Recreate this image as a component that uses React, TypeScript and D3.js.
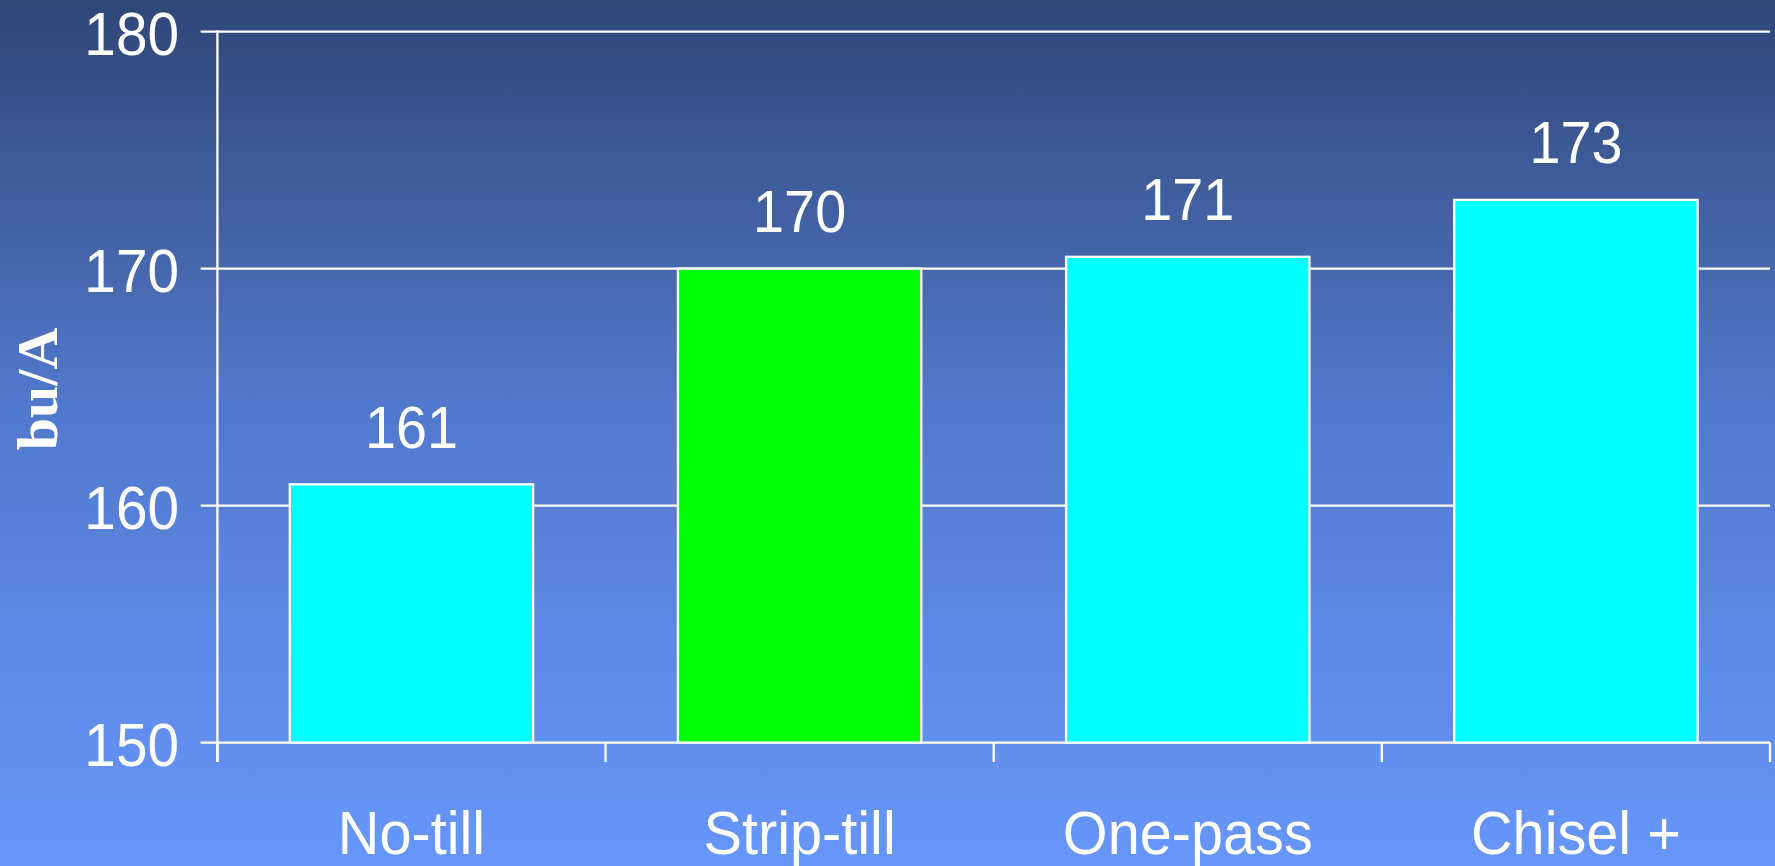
import React from "react";
import * as d3 from "d3";

const categories = ["No-till", "Strip-till", "One-pass", "Chisel +"];
const yields = [160.9, 170.0, 170.5, 172.9];
const valueLabels = ["161", "170", "171", "173"];
const barColors = ["#00FFFF", "#00FF00", "#00FFFF", "#00FFFF"];
const yTicks = [150, 160, 170, 180];

const W = 1775;
const H = 866;
const FONT = "'Liberation Sans', Arial, Helvetica, sans-serif";
const SX = 0.93;

export default function App() {
  const y = d3.scaleLinear().domain([150, 180]).range([742.6, 31.7]);
  const x = d3
    .scaleBand<string>()
    .domain(categories)
    .range([217.4, 1770])
    .paddingInner(0.373)
    .paddingOuter(0.1865);
  const step = x.step();
  const axisX = 217.4;
  const bottom = y(150);
  const boundaries = d3.range(categories.length + 1).map((i) => 217.4 + i * step);
  const SW = 2.3;

  return (
    <div style={{ position: "fixed", left: 0, top: 0, width: W, height: H }}>
      <svg width={W} height={H} style={{ display: "block" }}>
        <defs>
          <linearGradient id="bg" x1="0" y1="0" x2="0" y2="1">
            <stop offset="0" stopColor="#2f4677" />
            <stop offset="0.35" stopColor="#4a6cb4" />
            <stop offset="0.46" stopColor="#5078cc" />
            <stop offset="0.75" stopColor="#5e8ae6" />
            <stop offset="1" stopColor="#6796fb" />
          </linearGradient>
        </defs>
        <rect x={0} y={0} width={W} height={H} fill="url(#bg)" />

        {/* gridlines + y ticks */}
        {yTicks.map((t) => (
          <g key={t}>
            <line x1={200.7} x2={1770} y1={y(t)} y2={y(t)} stroke="#fff" strokeWidth={SW} />
            <text
              transform={`translate(179,${y(t) + 23.3}) scale(${SX},1)`}
              textAnchor="end"
              fill="#fff"
              fontFamily={FONT}
              fontSize={61}
            >
              {t}
            </text>
          </g>
        ))}

        {/* y axis */}
        <line x1={axisX} x2={axisX} y1={y(180) - 1.5} y2={762} stroke="#fff" strokeWidth={SW} />

        {/* x ticks */}
        {boundaries.map((bx, i) => (
          <line key={i} x1={bx} x2={bx} y1={bottom} y2={762} stroke="#fff" strokeWidth={SW} />
        ))}

        {/* bars */}
        {categories.map((c, i) => (
          <rect
            key={c}
            x={x(c)}
            y={y(yields[i])}
            width={x.bandwidth()}
            height={bottom - y(yields[i])}
            fill={barColors[i]}
            stroke="#fff"
            strokeWidth={SW}
          />
        ))}

        {/* value labels */}
        {categories.map((c, i) => (
          <text
            key={c}
            transform={`translate(${(x(c) as number) + x.bandwidth() / 2},${y(yields[i]) - 36.5}) scale(${SX},1)`}
            textAnchor="middle"
            fill="#fff"
            fontFamily={FONT}
            fontSize={60}
          >
            {valueLabels[i]}
          </text>
        ))}

        {/* category labels */}
        {categories.map((c) => (
          <text
            key={c}
            transform={`translate(${(x(c) as number) + x.bandwidth() / 2},${bottom + 111}) scale(${SX},1)`}
            textAnchor="middle"
            fill="#fff"
            fontFamily={FONT}
            fontSize={62}
          >
            {c}
          </text>
        ))}

        {/* y axis title */}
        <text
          transform="translate(57,389) rotate(-90)"
          textAnchor="middle"
          fill="#fff"
          fontFamily="'Liberation Serif', 'Times New Roman', serif"
          fontWeight="bold"
          fontSize={58}
        >
          bu/A
        </text>
      </svg>
    </div>
  );
}
